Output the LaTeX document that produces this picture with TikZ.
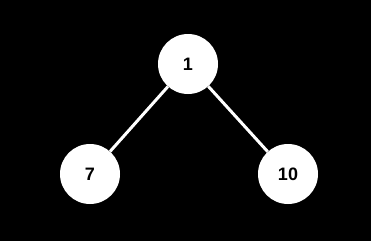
\documentclass[tikz,border=0pt]{standalone}
\usepackage{fontspec}
\setmainfont{Liberation Sans}
\usepackage{tikz}
\usetikzlibrary{positioning}

\begin{document}
\begin{tikzpicture}[
		x=1pt, y=-1pt,
		vertex/.style={circle, fill=white, minimum size=60pt, inner sep=0pt, font=\fontsize{18}{21}\selectfont\bfseries, text=black},
		edge/.style={draw=white, line width=3pt}
		]
		
		% Background
		\fill[black] (0,0) rectangle (371,241);
		\useasboundingbox (0,0) rectangle (371,241);
		
		% Nodes
		\node[vertex] (root) at (188,64) {1};
		\node[vertex] (left) at (90,174) {7};
		\node[vertex] (right) at (288,174) {10};
		
		% Edges
		\draw[edge] (root) -- (left);
		\draw[edge] (root) -- (right);
		
	\end{tikzpicture}
\end{document}
